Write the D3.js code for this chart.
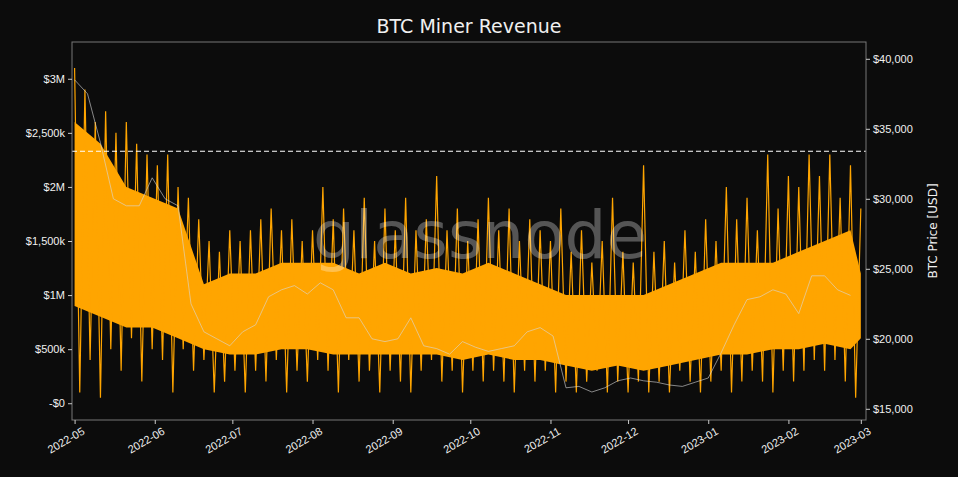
<!DOCTYPE html>
<html>
<head>
<meta charset="UTF-8">
<script src="https://d3js.org/d3.v7.min.js"></script>
<style>
  html, body { margin: 0; background: #0c0c0c; font-family: "DejaVu Sans", sans-serif; }
  text { fill: #f0f0f0; }
</style>
</head>
<body>
<svg id="chart" width="958" height="477"></svg>
<script>
  const startDate = new Date(2022, 4, 1);
  const endDate = new Date(2023, 2, 3);

  // band of the dense hourly revenue, every 10 days ($M)
  const bandDays = [0,10,20,30,40,50,60,70,80,90,100,110,120,130,140,150,160,170,180,190,200,210,220,230,240,250,260,270,280,290,300,304];
  const bandLow = [0.9,0.8,0.7,0.7,0.6,0.5,0.45,0.45,0.5,0.5,0.45,0.45,0.45,0.45,0.45,0.4,0.45,0.4,0.4,0.35,0.3,0.35,0.3,0.35,0.4,0.45,0.45,0.5,0.5,0.55,0.5,0.6];
  const bandHigh = [2.6,2.4,2.0,1.9,1.8,1.1,1.2,1.2,1.3,1.3,1.3,1.2,1.3,1.2,1.25,1.2,1.3,1.2,1.1,1.0,1.0,1.0,1.0,1.1,1.2,1.3,1.3,1.3,1.4,1.5,1.6,1.2];

  // spike peaks every 4 days, dips offset by 2 days ($M)
  const revPeaks = [3.1,2.9,2.6,2.7,2.5,2.6,2.4,2.3, 2.2,2.3,2.0,1.9,1.7,1.5,1.4,1.6,
    1.5,1.6,1.7,1.8,1.6,1.7,1.5,1.6, 2.0,1.7,1.8,1.6,1.9,1.5,1.8,1.6,
    1.9,1.6,1.7,2.1,1.6,1.8,1.5,1.7, 1.9,1.6,1.8,1.5,1.7,1.6,1.5,1.8,
    1.4,1.6,1.3,1.5,1.9,1.4,1.3,2.2, 1.4,1.5,1.3,1.6,1.4,1.7,1.5,2.0,
    1.7,1.9,1.6,2.3,1.8,2.1,2.0,2.3, 2.1,2.3,1.9,2.2,1.8];
  const revDips = [0.1,0.4,0.05,0.5,0.3,0.6,0.2,0.5, 0.4,0.1,0.5,0.3,0.4,0.1,0.2,0.3,
    0.1,0.3,0.2,0.4,0.1,0.3,0.2,0.4, 0.3,0.1,0.4,0.2,0.3,0.1,0.3,0.2,
    0.1,0.3,0.4,0.2,0.3,0.1,0.3,0.2, 0.3,0.2,0.1,0.3,0.2,0.3,0.1,0.2,
    0.1,0.2,0.3,0.1,0.2,0.1,0.2,0.1, 0.2,0.1,0.3,0.2,0.1,0.2,0.3,0.1,
    0.2,0.3,0.2,0.1,0.3,0.2,0.3,0.4, 0.3,0.4,0.2,0.05];

  // BTC price every 5 days (k USD)
  const priceValues = [38.5,37.5,34,30,29.5,29.5,31.5,30,29.5,22.5,20.5,20,19.5,20.5,21,23,23.5,23.8,23.2,24,
    23.5,21.5,21.5,20,19.8,20,21.5,19.5,19.3,18.9,19.8,19.4,19.1,19.3,19.5,20.5,20.8,20.2,16.5,16.6,
    16.2,16.5,17,17.2,17.0,16.9,16.7,16.6,16.9,17.2,19,21,22.8,23.0,23.5,23.2,21.8,24.5,24.5,23.5,23.1];

  const leftTicks = [0, 0.5, 1, 1.5, 2, 2.5, 3];
  const leftLabels = ["-$0", "$500k", "$1M", "$1,500k", "$2M", "$2,500k", "$3M"];
  const rightTicks = [15, 20, 25, 30, 35, 40];
  const thresholdLine = 2.33;

  const day = d => d3.timeDay.offset(startDate, d);
  const svg = d3.select("#chart");
  const m = { left: 72, right: 866, top: 42, bottom: 420 };

  const x = d3.scaleTime().domain([d3.timeDay.offset(startDate, -1), endDate]).range([m.left, m.right]);
  const y = d3.scaleLinear().domain([-0.155, 3.34]).range([m.bottom, m.top]);
  const y2 = d3.scaleLinear().domain([14.2, 41.2]).range([m.bottom, m.top]);

  svg.append("text").attr("x", 469).attr("y", 33).attr("text-anchor", "middle")
    .style("font-size", "19px").text("BTC Miner Revenue");

  const band = bandDays.map((d, i) => ({ d, lo: bandLow[i], hi: bandHigh[i] }));
  svg.append("path").datum(band)
    .attr("fill", "#ffa500")
    .attr("d", d3.area().x(p => x(day(p.d))).y0(p => y(p.lo)).y1(p => y(p.hi)));

  const zig = [];
  revPeaks.forEach((v, i) => {
    zig.push({ d: i * 4, v });
    if (i < revDips.length) zig.push({ d: i * 4 + 2, v: revDips[i] });
  });
  svg.append("path").datum(zig)
    .attr("fill", "none").attr("stroke", "#ffa500").attr("stroke-width", 1.2)
    .attr("d", d3.line().x(p => x(day(p.d))).y(p => y(p.v)));

  svg.append("path").datum(priceValues)
    .attr("fill", "none").attr("stroke", "#d8d8d8").attr("stroke-opacity", 0.6).attr("stroke-width", 1)
    .attr("d", d3.line().x((v, i) => x(day(i * 5))).y(v => y2(v)));

  svg.append("text").attr("x", 480).attr("y", 258).attr("text-anchor", "middle")
    .style("font-size", "66px").style("fill", "#ffffff").style("fill-opacity", 0.3).text("glassnode");

  svg.append("line").attr("x1", m.left).attr("x2", m.right)
    .attr("y1", y(thresholdLine)).attr("y2", y(thresholdLine))
    .attr("stroke", "#fff").attr("stroke-dasharray", "5,3").attr("stroke-width", 1.2);

  svg.append("rect").attr("x", m.left).attr("y", m.top)
    .attr("width", m.right - m.left).attr("height", m.bottom - m.top)
    .attr("fill", "none").attr("stroke", "#777");

  const styleAxis = g => {
    g.select(".domain").remove();
    g.selectAll("line").attr("stroke", "#ccc");
    g.selectAll("text").style("font-size", "11px").style("fill", "#f0f0f0");
  };

  svg.append("g").attr("transform", `translate(${m.left},0)`)
    .call(d3.axisLeft(y).tickValues(leftTicks).tickFormat((v, i) => leftLabels[i]).tickSize(4))
    .call(styleAxis);

  svg.append("g").attr("transform", `translate(${m.right},0)`)
    .call(d3.axisRight(y2).tickValues(rightTicks).tickFormat(v => "$" + d3.format(",")(v * 1000)).tickSize(4))
    .call(styleAxis);

  svg.append("text").attr("transform", `translate(937,${(m.top + m.bottom) / 2}) rotate(-90)`)
    .attr("text-anchor", "middle").style("font-size", "12px").text("BTC Price [USD]");

  const gx = svg.append("g").attr("transform", `translate(0,${m.bottom})`)
    .call(d3.axisBottom(x).ticks(d3.timeMonth.every(1)).tickFormat(d3.timeFormat("%Y-%m")).tickSize(4))
    .call(styleAxis);
  gx.selectAll("text").attr("text-anchor", "end").attr("dx", "0.2em").attr("dy", "0.9em")
    .attr("transform", "rotate(-30)");
</script>
</body>
</html>
